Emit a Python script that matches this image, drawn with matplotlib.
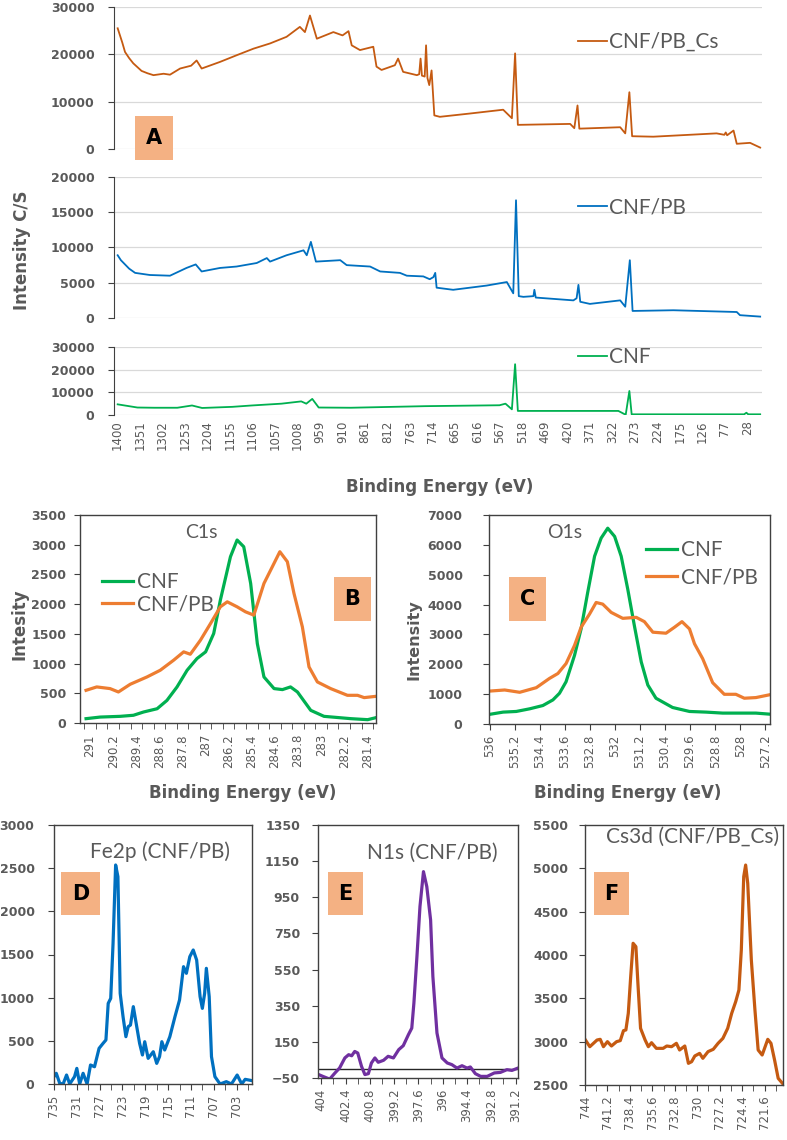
import matplotlib.pyplot as plt
import matplotlib.patches as mpatches
import numpy as np

# ---- survey spectra (panel A) ----
cs_ev = [1400, 1396, 1390, 1384, 1375, 1366, 1357, 1348, 1335, 1322, 1300, 1286, 1264, 1240,
         1228, 1217, 1177, 1141, 1104, 1068, 1032, 1003, 992, 981, 966, 930, 910, 897, 890, 872,
         843, 836, 825, 796, 789, 778, 748, 743, 740, 737, 731, 728, 725, 721, 716, 710, 698,
         632, 560, 541, 534, 528, 414, 405, 398, 394, 305, 294, 285, 279, 233, 95, 78, 75, 72,
         58, 51, 22, 0]
cs_int = [25500, 24300, 22500, 20500, 19200, 18100, 17300, 16500, 16000, 15600, 15900, 15700,
          17000, 17600, 18700, 17000, 18400, 19800, 21200, 22300, 23700, 25800, 24700, 28200,
          23300, 24700, 24000, 24900, 21900, 20900, 21600, 17400, 16700, 17700, 19100, 16300,
          15600, 15800, 19100, 15500, 15300, 21900, 15000, 13500, 16600, 7100, 6800, 7500, 8300,
          6500, 20200, 5100, 5300, 4400, 9200, 4300, 4600, 3300, 12000, 2700, 2600, 3300, 3000,
          3500, 2900, 3900, 1100, 1300, 300]

pb_ev = [1400, 1393, 1387, 1375, 1362, 1330, 1286, 1250, 1230, 1217, 1177, 1141, 1097, 1075,
         1068, 1032, 995, 988, 979, 968, 915, 901, 850, 828, 785, 770, 734, 720, 712, 708, 705,
         669, 596, 552, 538, 532, 526, 516, 494, 492, 489, 407, 400, 396, 392, 371, 305, 294,
         284, 278, 189, 51, 44, 0]
pb_int = [8900, 8200, 7800, 7000, 6400, 6100, 6000, 7100, 7600, 6600, 7100, 7300, 7800, 8500,
          8000, 8900, 9600, 8900, 10800, 8000, 8200, 7500, 7300, 6600, 6400, 6000, 5900, 5500,
          5800, 6400, 4300, 4000, 4600, 5100, 3500, 16700, 3100, 3000, 3100, 4000, 2900, 2500,
          2800, 4700, 2300, 2000, 2500, 1600, 8200, 1000, 1100, 850, 400, 200]

cnf_ev = [1400, 1357, 1320, 1270, 1238, 1216, 1150, 1108, 1043, 1000, 989, 976, 962, 892, 730,
          568, 555, 541, 534, 528, 309, 293, 285, 280, 35, 30, 26, 0]
cnf_int = [4700, 3300, 3200, 3200, 4200, 3100, 3600, 4200, 5000, 6000, 5000, 7100, 3300, 3200,
           3900, 4300, 5000, 2500, 22400, 1800, 1800, 100, 10600, 300, 300, 1000, 300, 300]

survey_ticks = list(range(1400, 20, -49))

# ---- C1s (panel B) ----
c1s_cnf_ev = [291.14, 290.65, 289.96, 289.5, 289.15, 288.68, 288.34, 287.99, 287.64, 287.3,
              287.0, 286.72, 286.49, 286.14, 285.91, 285.68, 285.44, 285.21, 284.98, 284.63,
              284.34, 284.06, 283.82, 283.36, 282.9, 281.97, 281.39, 281.1]
c1s_cnf = [73, 100, 112, 130, 185, 240, 380, 607, 888, 1084, 1197, 1506, 2067, 2798, 3079, 2966,
           2348, 1337, 775, 579, 562, 607, 522, 213, 112, 73, 56, 90]
c1s_pb_ev = [291.14, 290.77, 290.31, 290.02, 289.61, 289.03, 288.57, 288.11, 287.76, 287.53,
             287.18, 286.83, 286.49, 286.25, 285.91, 285.62, 285.33, 284.98, 284.69, 284.43,
             284.17, 283.94, 283.65, 283.42, 283.13, 282.67, 282.09, 281.74, 281.51, 281.1]
c1s_pb = [550, 607, 579, 522, 652, 775, 888, 1056, 1197, 1157, 1393, 1674, 1955, 2039, 1955, 1871,
          1815, 2348, 2629, 2882, 2714, 2180, 1618, 944, 691, 579, 466, 466, 427, 449]
c1s_ticks = [291, 290.2, 289.4, 288.6, 287.8, 287, 286.2, 285.4, 284.6, 283.8, 283, 282.2, 281.4]

# ---- O1s (panel C) ----
o1s_cnf_ev = [535.95, 535.57, 535.15, 534.72, 534.3, 533.98, 533.77, 533.56, 533.29, 533.08,
              532.87, 532.65, 532.44, 532.23, 532.01, 531.8, 531.59, 531.38, 531.16, 530.95,
              530.69, 530.16, 529.62, 529.09, 528.56, 527.5, 527.09]
o1s_cnf = [332, 398, 420, 509, 619, 807, 1029, 1416, 2300, 3185, 4402, 5618, 6227, 6558, 6282,
           5618, 4512, 3296, 2079, 1305, 863, 553, 420, 398, 365, 365, 332]
o1s_pb_ev = [535.95, 535.52, 535.04, 534.51, 534.09, 533.82, 533.56, 533.29, 533.08, 532.81,
             532.6, 532.39, 532.12, 531.75, 531.32, 531.06, 530.79, 530.37, 530.1, 529.86,
             529.62, 529.46, 529.2, 528.88, 528.51, 528.14, 527.87, 527.5, 527.09]
o1s_pb = [1106, 1139, 1062, 1217, 1526, 1692, 2024, 2632, 3240, 3683, 4070, 4015, 3738, 3539,
          3572, 3428, 3075, 3041, 3240, 3428, 3185, 2687, 2190, 1383, 995, 995, 863, 885, 973]
o1s_ticks = [536, 535.2, 534.4, 533.6, 532.8, 532, 531.2, 530.4, 529.6, 528.8, 528, 527.2]

# ---- Fe2p (panel D) ----
fe_ev = [735, 734.6, 734.0, 733.4, 732.8, 732.25, 731.4, 731, 730.5, 729.9, 729.2, 728.6, 727.9,
         727.1, 726.4, 725.9, 725.5, 725.06, 724.65, 724.2, 723.8, 723.4, 722.9, 722.4, 722.0,
         721.6, 721.1, 720.6, 720.0, 719.5, 719.1, 718.5, 717.6, 717.0, 716.5, 716.1, 715.6,
         714.7, 713.8, 713.0, 712.3, 711.8, 711.2, 710.6, 710.0, 709.4, 709.0, 708.6, 708.3,
         707.8, 707.4, 706.8, 705.9, 704.8, 703.9, 702.9, 702.1, 701.5, 700.3]
fe_int = [85, 124, 8, 0, 104, 0, 85, 181, 0, 124, 0, 220, 200, 413, 471, 510, 934, 992, 1629, 2537,
          2402, 1050, 780, 548, 664, 683, 896, 703, 471, 336, 490, 297, 374, 239, 317, 490, 394,
          548, 780, 973, 1359, 1282, 1475, 1552, 1436, 1012, 876, 1050, 1340, 1012, 317, 85, 0, 27,
          0, 104, 0, 54, 39]
fe_ticks = [735, 731, 727, 723, 719, 715, 711, 707, 703]

# ---- N1s (panel E) ----
n_ev = [404.18, 403.9, 403.45, 403.1, 402.8, 402.45, 402.2, 402.0, 401.8, 401.6, 401.35, 401.13,
        400.9, 400.7, 400.47, 400.25, 399.9, 399.6, 399.25, 398.9, 398.6, 398.26, 398.04, 397.9,
        397.7, 397.5, 397.27, 397.05, 396.8, 396.65, 396.38, 396.05, 395.7, 395.4, 395.06,
        394.73, 394.4, 394.18, 393.85, 393.5, 393.07, 392.6, 392.2, 391.77, 391.44, 391.04]
n_int = [-31, -41, -56, -22, 5, 61, 79, 73, 97, 88, 14, -31, -26, 33, 61, 37, 48, 70, 61, 107, 129,
         190, 226, 365, 622, 899, 1092, 1009, 825, 512, 199, 61, 33, 24, 5, 18, 5, 11, -26, -41,
         -41, -22, -19, -4, -8, 5]
n_ticks = [404, 402.4, 400.8, 399.2, 397.6, 396, 394.4, 392.8, 391.2]

# ---- Cs3d (panel F) ----
cs3d_ev = [744, 743.4, 742.5, 742.1, 741.7, 741.2, 740.7, 740.06, 739.6, 739.2, 738.9, 738.6,
           738.3, 738.0, 737.65, 737.4, 737.07, 736.5, 736.1, 735.7, 735.1, 734.25, 733.8, 733.2,
           732.6, 732.2, 731.55, 731.1, 730.7, 730.3, 729.7, 729.3, 728.65, 728.0, 727.4, 726.8,
           726.2, 725.7, 725.2, 724.8, 724.5, 724.2, 723.96, 723.7, 723.25, 722.8, 722.4, 721.9,
           721.2, 720.8, 720.35, 719.9, 719.3]
cs3d_int = [3027, 2942, 3019, 3027, 2942, 3000, 2950, 3000, 3012, 3127, 3135, 3327, 3750, 4135,
            4096, 3673, 3154, 3019, 2942, 2988, 2923, 2923, 2950, 2942, 2981, 2904, 2950, 2750,
            2769, 2835, 2865, 2808, 2885, 2912, 2981, 3038, 3154, 3327, 3462, 3596, 4058, 4904,
            5038, 4827, 3942, 3365, 2904, 2846, 3027, 2981, 2788, 2577, 2512]
cs3d_ticks = [744, 741.2, 738.4, 735.6, 732.8, 730, 727.2, 724.4, 721.6]

W, H = 787, 1140
GRAY = '#595959'
DARK = '#404040'
BOXC = '#F4B183'
C_CS = '#C55A11'
C_PB = '#0070C0'
C_CNF = '#00B050'
C_OR = '#ED7D31'
C_PU = '#7030A0'

fig = plt.figure(figsize=(W / 100, H / 100), dpi=100)
fig.patch.set_facecolor('white')


def px_axes(l, t, r, b):
    return fig.add_axes([l / W, 1 - b / H, (r - l) / W, (b - t) / H])


def ftext(x, y, s, **kw):
    fig.text(x / W, 1 - y / H, s, **kw)


def letter_box(l, t, r, b, s):
    fig.patches.append(mpatches.Rectangle((l / W, 1 - b / H), (r - l) / W, (b - t) / H,
                                          transform=fig.transFigure, facecolor=BOXC,
                                          edgecolor='none', zorder=5))
    ftext((l + r) / 2, (t + b) / 2, s, ha='center', va='center', fontsize=15,
          fontweight='bold', color='black', zorder=6)


def style_ticks(ax, ypad):
    for lab in ax.get_yticklabels():
        lab.set_fontweight('bold')
    ax.tick_params(axis='y', labelsize=9, labelcolor=GRAY, color=DARK, length=4, pad=ypad)
    ax.tick_params(axis='x', labelsize=8.5, labelcolor=GRAY, color=DARK, length=4,
                   labelrotation=90)


def box_axes(ax):
    for s in ax.spines.values():
        s.set_color(DARK)
        s.set_linewidth(1.0)


def side_legend(ax, x, y, spacing):
    ax.legend(loc='upper left', bbox_to_anchor=(x / W, 1 - y / H),
              bbox_transform=fig.transFigure, frameon=False, handlelength=1.5,
              handletextpad=0.2, borderpad=0, borderaxespad=0, labelspacing=spacing,
              prop={'family': 'Lato', 'size': 15}, labelcolor=GRAY)


# ---------------- Panel A ----------------
survey = [
    (7, 149, cs_ev, cs_int, C_CS, 30000, 10000, 'CNF/PB_Cs', 42),
    (177, 318, pb_ev, pb_int, C_PB, 20000, 5000, 'CNF/PB', 207),
    (347, 415, cnf_ev, cnf_int, C_CNF, 30000, 10000, 'CNF', 357),
]
for i, (t, b, xe, yi, col, ymax, step, lab, ly) in enumerate(survey):
    ax = px_axes(114, t, 762, b)
    ax.plot(xe, yi, color=col, lw=1.3, label=lab)
    ax.set_xlim(1408, -4)
    ax.set_ylim(0, ymax)
    ax.set_yticks(np.arange(0, ymax + 1, step))
    ax.yaxis.grid(True, color='#D9D9D9', lw=0.9)
    ax.set_axisbelow(True)
    for s in ['top', 'right', 'bottom']:
        ax.spines[s].set_visible(False)
    ax.spines['left'].set_color(DARK)
    if i == 2:
        ax.set_xticks(survey_ticks)
        ax.set_xticklabels([str(v) for v in survey_ticks])
    else:
        ax.set_xticks([])
    style_ticks(ax, 10)
    ax.tick_params(axis='x', length=0, pad=4)
    ax.legend(loc='center left', bbox_to_anchor=(578 / W, 1 - ly / H),
              bbox_transform=fig.transFigure, frameon=False, handlelength=1.4,
              handletextpad=0.1, borderpad=0, borderaxespad=0,
              prop={'family': 'Lato', 'size': 15}, labelcolor=GRAY)

ftext(22, 250, 'Intensity C/S', rotation=90, ha='center', va='center', fontsize=12,
      fontweight='bold', color=GRAY)
ftext(440, 487, 'Binding Energy (eV)', ha='center', va='center', fontsize=12,
      fontweight='bold', color=GRAY)
letter_box(135, 116, 173, 160, 'A')

# ---------------- Panel B ----------------
ax = px_axes(80, 515, 376, 723)
ax.plot(c1s_cnf_ev, c1s_cnf, color=C_CNF, lw=2.3, label='CNF')
ax.plot(c1s_pb_ev, c1s_pb, color=C_OR, lw=2.3, label='CNF/PB')
ax.set_xlim(291.35, 281.1)
ax.set_ylim(0, 3500)
ax.set_yticks(np.arange(0, 3501, 500))
ax.set_xticks(c1s_ticks)
ax.set_xticklabels([f'{v:g}' for v in c1s_ticks])
ax.set_xticks(np.arange(291.2, 281.0, -0.4), minor=True)
box_axes(ax)
style_ticks(ax, 6)
ax.tick_params(axis='x', which='major', length=0, pad=8)
ax.tick_params(axis='x', which='minor', length=4, color=DARK)
side_legend(ax, 102, 572, 0.1)
ftext(20, 624, 'Intesity', rotation=90, ha='center', va='center', fontsize=12,
      fontweight='bold', color=GRAY)
ftext(243, 793, 'Binding Energy (eV)', ha='center', va='center', fontsize=12,
      fontweight='bold', color=GRAY)
ftext(201, 533, 'C1s', ha='center', va='center', fontsize=14, family='Lato', color=GRAY)
letter_box(334, 577, 371, 621, 'B')

# ---------------- Panel C ----------------
ax = px_axes(489, 515, 770, 724)
ax.plot(o1s_cnf_ev, o1s_cnf, color=C_CNF, lw=2.3, label='CNF')
ax.plot(o1s_pb_ev, o1s_pb, color=C_OR, lw=2.3, label='CNF/PB')
ax.set_xlim(536.02, 527.05)
ax.set_ylim(0, 7000)
ax.set_yticks(np.arange(0, 7001, 1000))
ax.set_xticks(o1s_ticks)
ax.set_xticklabels([f'{v:g}' for v in o1s_ticks])
box_axes(ax)
style_ticks(ax, 15)
side_legend(ax, 646, 540, 0.35)
ftext(414, 640, 'Intensity', rotation=90, ha='center', va='center', fontsize=11.5,
      fontweight='bold', color=GRAY)
ftext(628, 793, 'Binding Energy (eV)', ha='center', va='center', fontsize=12,
      fontweight='bold', color=GRAY)
ftext(565, 533, 'O1s', ha='center', va='center', fontsize=14, family='Lato', color=GRAY)
letter_box(509, 577, 546, 621, 'C')

# ---------------- Panel D ----------------
ax = px_axes(54, 825, 252, 1084)
ax.plot(fe_ev, fe_int, color=C_PB, lw=2.3)
ax.set_xlim(735, 700.3)
ax.set_ylim(0, 3000)
ax.set_yticks(np.arange(0, 3001, 500))
ax.set_xticks(fe_ticks)
ax.set_xticklabels([str(v) for v in fe_ticks])
ax.set_xticks(np.arange(733, 700, -4), minor=True)
box_axes(ax)
style_ticks(ax, 10)
ax.tick_params(axis='x', which='minor', length=4, color=DARK)
ftext(160, 852, 'Fe2p (CNF/PB)', ha='center', va='center', fontsize=15, family='Lato',
      color=GRAY)
letter_box(61, 872, 100, 915, 'D')

# ---------------- Panel E ----------------
ax = px_axes(318, 825, 518, 1078)
ax.axhline(0, color='#262626', lw=1.0)
ax.plot(n_ev, n_int, color=C_PU, lw=2.3)
ax.set_xlim(404.22, 391.04)
ax.set_ylim(-50, 1350)
ax.set_yticks(np.arange(-50, 1351, 200))
ax.set_xticks(n_ticks)
ax.set_xticklabels([f'{v:g}' for v in n_ticks])
ax.set_xticks(np.arange(403.2, 391.0, -1.6), minor=True)
box_axes(ax)
style_ticks(ax, 9)
ax.tick_params(axis='x', which='minor', length=4, color=DARK)
ftext(432, 853, 'N1s (CNF/PB)', ha='center', va='center', fontsize=15, family='Lato',
      color=GRAY)
letter_box(328, 872, 363, 915, 'E')

# ---------------- Panel F ----------------
ax = px_axes(585, 825, 783, 1085)
ax.plot(cs3d_ev, cs3d_int, color=C_CS, lw=2.3)
ax.set_xlim(744, 719.3)
ax.set_ylim(2500, 5500)
ax.set_yticks(np.arange(2500, 5501, 500))
ax.set_xticks(cs3d_ticks)
ax.set_xticklabels([f'{v:g}' for v in cs3d_ticks])
ax.set_xticks(np.arange(742.6, 719.5, -2.8), minor=True)
box_axes(ax)
style_ticks(ax, 8)
ax.tick_params(axis='x', which='minor', length=4, color=DARK)
ftext(779, 837, 'Cs3d (CNF/PB_Cs)', ha='right', va='center', fontsize=15, family='Lato',
      color=GRAY)
letter_box(594, 872, 629, 915, 'F')

fig.savefig('out.png', dpi=100)
